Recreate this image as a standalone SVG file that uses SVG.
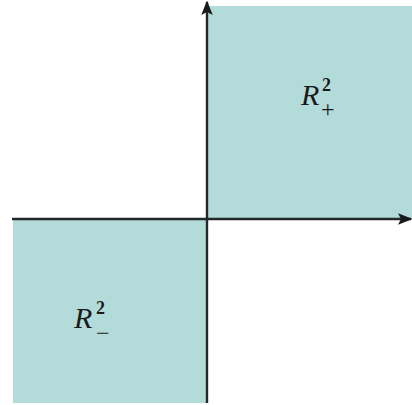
<svg xmlns="http://www.w3.org/2000/svg" width="412" height="405" viewBox="0 0 412 405">
<style>
.region{fill:#b3dbda;stroke:none}
.axis{stroke:#23292a;stroke-width:2.4;fill:none}
.lbl{font-family:"Liberation Serif","DejaVu Serif",serif;font-style:italic;font-size:30px;fill:#1a1a1a}
.sup{font-family:"Liberation Serif","DejaVu Serif",serif;font-size:18px;font-weight:bold;fill:#1a1a1a}
.sub{font-family:"Liberation Serif","DejaVu Serif",serif;font-size:24px;fill:#1a1a1a}
</style>
<defs>
<marker id="arr" viewBox="0 0 10 10" refX="9" refY="5" markerWidth="6" markerHeight="6" orient="auto" markerUnits="strokeWidth">
<path d="M0,1 L10,5 L0,9 L2,5 z" fill="#1a1a1a"/>
</marker>
</defs>
<rect x="0" y="0" width="412" height="405" fill="#ffffff"/>
<g id="region-plus">
<rect class="region" x="207" y="6" width="205" height="213"/>
<text class="lbl" x="301" y="105">R</text>
<text class="sup" x="322" y="91">2</text>
<text class="sub" x="321" y="117">+</text>
</g>
<g id="region-minus">
<rect class="region" x="13" y="219" width="194" height="184"/>
<text class="lbl" x="74" y="328">R</text>
<text class="sup" x="96" y="314">2</text>
<text class="sub" x="96" y="341">−</text>
</g>
<g id="connectors">
<line class="axis" x1="12" y1="219" x2="411" y2="219" marker-end="url(#arr)"/>
<line class="axis" x1="207" y1="403" x2="207" y2="2" marker-end="url(#arr)"/>
</g>
</svg>
